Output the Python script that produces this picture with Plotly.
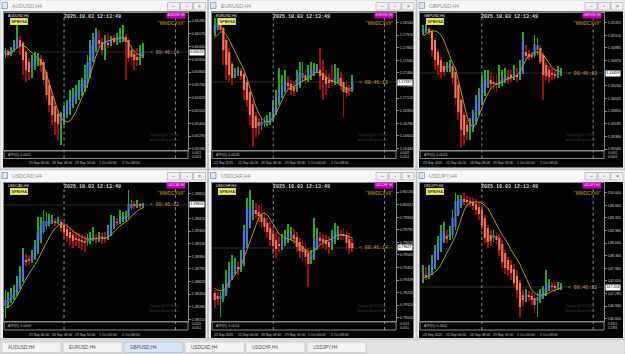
import plotly.graph_objects as go

W, H = 625, 354

# ------------------------------------------------------------------ data
SYMBOLS = ["AUDUSD", "EURUSD", "GBPUSD", "USDCAD", "USDCHF", "USDJPY"]
TIMEFRAME = "H4"
CLOCK = "2025.10.03 12:13:49"
TIME_LABELS = ["23 Sep 2025", "25 Sep 00:00", "26 Sep 08:00", "29 Sep 16:00", "1 Oct 00:00", "2 Oct 08:00"]
TIME_LABEL_BARS = [0, 8, 16, 24, 32, 40]
SEPARATOR_BARS = [20, 58]

AUDUSD_OPEN = [0.65996,0.66022,0.65996,0.66030,0.66056,0.66117,0.66091,0.66013,0.65927,0.65876,0.65901,0.65936,0.65953,0.65927,0.65841,0.65729,0.65634,0.65548,0.65479,0.65411,0.65436,0.65479,0.65514,0.65557,0.65600,0.65634,0.65669,0.65703,0.65738,0.65832,0.65953,0.66048,0.66117,0.66099,0.66065,0.66091,0.66082,0.66134,0.66099,0.66117,0.66125,0.66142,0.66117,0.66030,0.65996,0.65970,0.65962,0.65987]
AUDUSD_CLOSE = [0.66030,0.65987,0.66030,0.66082,0.66134,0.66065,0.65944,0.65858,0.65841,0.65927,0.65962,0.65970,0.65901,0.65772,0.65643,0.65557,0.65471,0.65411,0.65393,0.65462,0.65514,0.65548,0.65600,0.65634,0.65669,0.65703,0.65738,0.65772,0.65927,0.66074,0.66134,0.66185,0.66082,0.66030,0.66117,0.66074,0.66117,0.66099,0.66134,0.66142,0.66151,0.66099,0.65962,0.65970,0.65944,0.65944,0.66013,0.66013]
AUDUSD_HIGH = [0.66048,0.66039,0.66056,0.66117,0.66246,0.66151,0.66108,0.66030,0.65962,0.65987,0.66013,0.66005,0.65987,0.65944,0.65858,0.65772,0.65669,0.65583,0.65514,0.65497,0.65557,0.65600,0.65686,0.65703,0.65729,0.65772,0.65789,0.65901,0.65987,0.66117,0.66177,0.66220,0.66203,0.66134,0.66160,0.66168,0.66151,0.66160,0.66177,0.66220,0.66246,0.66168,0.66134,0.66074,0.66030,0.66048,0.66074,0.66091]
AUDUSD_LOW = [0.65962,0.65970,0.65979,0.66013,0.66048,0.65987,0.65815,0.65755,0.65772,0.65789,0.65858,0.65893,0.65841,0.65729,0.65600,0.65497,0.65385,0.65299,0.65256,0.65213,0.65385,0.65445,0.65471,0.65531,0.65566,0.65600,0.65634,0.65669,0.65703,0.65789,0.65927,0.66013,0.66048,0.65987,0.65944,0.66048,0.66065,0.66074,0.66074,0.66091,0.66099,0.65772,0.65927,0.65901,0.65858,0.65893,0.65901,0.65962]
AUDUSD_MA = [0.65987,0.65996,0.66013,0.66030,0.66048,0.66065,0.66065,0.66056,0.66030,0.66005,0.65979,0.65962,0.65944,0.65893,0.65824,0.65738,0.65652,0.65566,0.65497,0.65445,0.65419,0.65411,0.65419,0.65454,0.65497,0.65557,0.65617,0.65669,0.65738,0.65824,0.65910,0.65987,0.66048,0.66082,0.66099,0.66108,0.66117,0.66125,0.66125,0.66134,0.66134,0.66125,0.66091,0.66048,0.66013,0.65996,0.65987,0.65987]
AUDUSD_TICKS = [0.66280,0.66170,0.66060,0.65950,0.65840,0.65730,0.65620,0.65510,0.65400,0.65290,0.65180]
AUDUSD_PRICE = 0.66013

EURUSD_OPEN = [1.17999,1.18066,1.18107,1.18066,1.17904,1.17742,1.17580,1.17432,1.17459,1.17486,1.17445,1.17337,1.17202,1.17040,1.16878,1.16797,1.16757,1.16770,1.16784,1.16797,1.16838,1.16932,1.17067,1.17162,1.17229,1.17324,1.17310,1.17270,1.17243,1.17310,1.17391,1.17432,1.17391,1.17418,1.17459,1.17486,1.17499,1.17459,1.17405,1.17364,1.17351,1.17337,1.17364,1.17391,1.17337,1.17270,1.17229,1.17229]
EURUSD_CLOSE = [1.18107,1.18134,1.18039,1.17769,1.17567,1.17432,1.17391,1.17486,1.17499,1.17418,1.17229,1.17094,1.16892,1.16716,1.16716,1.16743,1.16797,1.16811,1.16824,1.16865,1.16986,1.17135,1.17229,1.17283,1.17364,1.17283,1.17229,1.17216,1.17364,1.17445,1.17459,1.17364,1.17432,1.17499,1.17513,1.17526,1.17418,1.17364,1.17310,1.17324,1.17337,1.17391,1.17405,1.17283,1.17202,1.17189,1.17216,1.17337]
EURUSD_HIGH = [1.18201,1.18201,1.18147,1.18080,1.17931,1.17796,1.17607,1.17526,1.17540,1.17526,1.17472,1.17364,1.17229,1.17094,1.16932,1.16851,1.16851,1.16865,1.16892,1.16932,1.17094,1.17229,1.17526,1.17432,1.17499,1.17418,1.17364,1.17337,1.17499,1.17607,1.17607,1.17499,1.17567,1.17607,1.17594,1.17580,1.17796,1.17634,1.17499,1.17445,1.17567,1.17580,1.17526,1.17472,1.17391,1.17364,1.17297,1.17432]
EURUSD_LOW = [1.17958,1.18039,1.17999,1.17567,1.17364,1.17337,1.17297,1.17391,1.17418,1.17364,1.17094,1.17000,1.16757,1.16460,1.16595,1.16622,1.16689,1.16730,1.16743,1.16757,1.16811,1.16892,1.17027,1.17121,1.17202,1.17229,1.17162,1.17148,1.17202,1.17256,1.17337,1.17310,1.17337,1.17364,1.17418,1.17459,1.17229,1.17094,1.17162,1.17256,1.17283,1.17297,1.17310,1.17229,1.16865,1.17121,1.17148,1.17202]
EURUSD_MA = [1.17931,1.17972,1.18012,1.18012,1.17972,1.17904,1.17823,1.17742,1.17661,1.17594,1.17499,1.17391,1.17256,1.17135,1.17013,1.16919,1.16851,1.16811,1.16797,1.16811,1.16851,1.16919,1.17000,1.17094,1.17175,1.17229,1.17270,1.17283,1.17297,1.17324,1.17351,1.17364,1.17391,1.17418,1.17459,1.17472,1.17459,1.17432,1.17405,1.17378,1.17351,1.17337,1.17324,1.17297,1.17270,1.17243,1.17243,1.17270]
EURUSD_TICKS = [1.18140,1.17970,1.17800,1.17630,1.17460,1.17290,1.17120,1.16950,1.16780,1.16610,1.16440]
EURUSD_PRICE = 1.17337

GBPUSD_OPEN = [1.35138,1.35172,1.35206,1.35172,1.35019,1.34815,1.34679,1.34577,1.34509,1.34543,1.34577,1.34475,1.34254,1.33999,1.33744,1.33574,1.33506,1.33540,1.33642,1.33795,1.33965,1.34118,1.34237,1.34339,1.34305,1.34288,1.34271,1.34305,1.34339,1.34390,1.34424,1.34390,1.34424,1.34407,1.34475,1.34815,1.34781,1.34764,1.34747,1.34849,1.34883,1.34764,1.34594,1.34509,1.34458,1.34441,1.34424,1.34441]
GBPUSD_CLOSE = [1.35206,1.35240,1.35138,1.34849,1.34679,1.34594,1.34475,1.34475,1.34577,1.34594,1.34373,1.34033,1.33795,1.33489,1.33404,1.33455,1.33591,1.33761,1.33965,1.34118,1.34254,1.34339,1.34356,1.34271,1.34271,1.34254,1.34339,1.34373,1.34407,1.34356,1.34373,1.34458,1.34390,1.34543,1.34985,1.34747,1.34730,1.34730,1.34951,1.34934,1.34645,1.34424,1.34407,1.34390,1.34424,1.34407,1.34492,1.34475]
GBPUSD_HIGH = [1.35274,1.35291,1.35240,1.35189,1.35053,1.34849,1.34730,1.34645,1.34645,1.34679,1.34611,1.34509,1.34305,1.34033,1.33795,1.33659,1.33693,1.33829,1.34084,1.34203,1.34424,1.34509,1.34509,1.34475,1.34407,1.34441,1.34594,1.34509,1.34543,1.34509,1.34509,1.34594,1.34543,1.34679,1.35155,1.34934,1.34849,1.34815,1.35104,1.35053,1.34934,1.34815,1.34645,1.34577,1.34543,1.34509,1.34577,1.34543]
GBPUSD_LOW = [1.35104,1.35138,1.35104,1.34730,1.34509,1.34424,1.34373,1.34407,1.34475,1.34475,1.34254,1.33914,1.33659,1.33200,1.33234,1.33319,1.33319,1.33455,1.33574,1.33744,1.33914,1.34067,1.34203,1.34169,1.34169,1.34135,1.34203,1.34237,1.34288,1.34271,1.34305,1.34339,1.34305,1.34339,1.34441,1.34679,1.34679,1.34696,1.34713,1.34764,1.34611,1.33999,1.34339,1.34288,1.34339,1.34356,1.34373,1.34407]
GBPUSD_MA = [1.35087,1.35121,1.35155,1.35172,1.35172,1.35155,1.35104,1.35019,1.34883,1.34747,1.34628,1.34543,1.34339,1.34135,1.33897,1.33710,1.33591,1.33540,1.33591,1.33727,1.33880,1.33999,1.34101,1.34186,1.34237,1.34271,1.34288,1.34305,1.34339,1.34356,1.34373,1.34390,1.34424,1.34475,1.34577,1.34679,1.34747,1.34781,1.34798,1.34815,1.34798,1.34764,1.34696,1.34611,1.34543,1.34509,1.34492,1.34475]
GBPUSD_TICKS = [1.35315,1.35100,1.34885,1.34670,1.34240,1.34025,1.33810,1.33595,1.33380,1.33165]
GBPUSD_PRICE = 1.34458

USDCAD_OPEN = [1.38290,1.38331,1.38371,1.38412,1.38466,1.38560,1.38655,1.38911,1.38925,1.38911,1.38938,1.39019,1.39181,1.39289,1.39370,1.39397,1.39424,1.39438,1.39424,1.39424,1.39384,1.39330,1.39289,1.39249,1.39208,1.39195,1.39181,1.39168,1.39154,1.39181,1.39195,1.39208,1.39208,1.39222,1.39208,1.39208,1.39262,1.39357,1.39424,1.39424,1.39451,1.39465,1.39492,1.39613,1.39654,1.39640,1.39654,1.39640]
USDCAD_CLOSE = [1.38371,1.38398,1.38452,1.38506,1.38628,1.38749,1.38992,1.38884,1.38898,1.38965,1.39100,1.39276,1.39370,1.39438,1.39438,1.39451,1.39451,1.39411,1.39438,1.39343,1.39289,1.39235,1.39208,1.39168,1.39181,1.39168,1.39154,1.39141,1.39195,1.39208,1.39222,1.39195,1.39222,1.39195,1.39195,1.39303,1.39438,1.39438,1.39411,1.39465,1.39478,1.39505,1.39667,1.39667,1.39640,1.39667,1.39640,1.39654]
USDCAD_HIGH = [1.38506,1.38479,1.38533,1.38574,1.38695,1.38830,1.39073,1.38992,1.38979,1.39046,1.39181,1.39492,1.39492,1.39586,1.39559,1.39532,1.39519,1.39478,1.39492,1.39465,1.39424,1.39397,1.39343,1.39316,1.39289,1.39276,1.39249,1.39235,1.39262,1.39289,1.39357,1.39262,1.39289,1.39276,1.39289,1.39384,1.39519,1.39505,1.39478,1.39586,1.39559,1.39573,1.39856,1.39721,1.39708,1.39721,1.39681,1.39681]
USDCAD_LOW = [1.38128,1.38263,1.38331,1.38371,1.38425,1.38520,1.38614,1.38830,1.38857,1.38871,1.38911,1.38992,1.39141,1.39262,1.39330,1.39370,1.39397,1.39370,1.39397,1.39289,1.39208,1.39154,1.39114,1.39073,1.39100,1.39073,1.39046,1.39019,1.39100,1.39127,1.39168,1.39141,1.39154,1.39127,1.39141,1.39181,1.39235,1.39330,1.39370,1.39397,1.39424,1.39438,1.39465,1.39586,1.39600,1.39613,1.39613,1.39613]
USDCAD_MA = [1.38263,1.38277,1.38304,1.38358,1.38425,1.38506,1.38587,1.38655,1.38722,1.38776,1.38844,1.38911,1.38992,1.39060,1.39141,1.39222,1.39289,1.39343,1.39384,1.39397,1.39397,1.39370,1.39343,1.39303,1.39276,1.39249,1.39222,1.39208,1.39195,1.39195,1.39195,1.39195,1.39208,1.39208,1.39208,1.39222,1.39249,1.39289,1.39330,1.39370,1.39397,1.39424,1.39451,1.39505,1.39546,1.39573,1.39600,1.39613]
USDCAD_TICKS = [1.39810,1.39470,1.39300,1.39130,1.38960,1.38790,1.38620,1.38450,1.38280,1.38110]
USDCAD_PRICE = 1.39654

USDCHF_OPEN = [0.79222,0.79195,0.79168,0.79177,0.79222,0.79285,0.79357,0.79429,0.79456,0.79447,0.79501,0.79654,0.79834,0.79924,0.79969,0.79951,0.79933,0.79897,0.79852,0.79807,0.79753,0.79699,0.79663,0.79654,0.79672,0.79699,0.79726,0.79744,0.79726,0.79681,0.79645,0.79618,0.79582,0.79528,0.79546,0.79627,0.79717,0.79708,0.79699,0.79681,0.79654,0.79690,0.79735,0.79753,0.79753,0.79744,0.79708,0.79672]
USDCHF_CLOSE = [0.79159,0.79168,0.79195,0.79249,0.79321,0.79411,0.79474,0.79465,0.79438,0.79537,0.79789,0.79987,0.79996,0.79969,0.79933,0.79915,0.79861,0.79816,0.79771,0.79699,0.79645,0.79618,0.79645,0.79690,0.79717,0.79753,0.79753,0.79708,0.79636,0.79600,0.79591,0.79546,0.79483,0.79555,0.79708,0.79735,0.79690,0.79681,0.79663,0.79636,0.79717,0.79780,0.79771,0.79744,0.79735,0.79672,0.79627,0.79627]
USDCHF_HIGH = [0.79249,0.79231,0.79231,0.79303,0.79429,0.79501,0.79564,0.79537,0.79501,0.79609,0.79834,0.80077,0.80149,0.80059,0.80032,0.80014,0.80032,0.79951,0.79897,0.79861,0.79807,0.79771,0.79735,0.79753,0.79789,0.79843,0.79816,0.79798,0.79771,0.79717,0.79699,0.79672,0.79627,0.79609,0.79897,0.79807,0.79771,0.79753,0.79744,0.79735,0.79789,0.79852,0.79825,0.79789,0.79807,0.79789,0.79762,0.79717]
USDCHF_LOW = [0.79087,0.79114,0.79006,0.79141,0.79195,0.79267,0.79339,0.79393,0.79384,0.79411,0.79465,0.79627,0.79807,0.79879,0.79897,0.79861,0.79807,0.79771,0.79717,0.79645,0.79573,0.79537,0.79591,0.79609,0.79645,0.79672,0.79699,0.79663,0.79591,0.79537,0.79501,0.79465,0.79276,0.79483,0.79519,0.79609,0.79654,0.79627,0.79609,0.79573,0.79609,0.79663,0.79699,0.79699,0.79699,0.79609,0.79573,0.79591]
USDCHF_MA = [0.79267,0.79249,0.79240,0.79249,0.79276,0.79312,0.79348,0.79384,0.79420,0.79465,0.79537,0.79609,0.79690,0.79762,0.79843,0.79897,0.79933,0.79942,0.79924,0.79888,0.79843,0.79798,0.79753,0.79735,0.79717,0.79708,0.79699,0.79690,0.79672,0.79654,0.79636,0.79609,0.79591,0.79591,0.79609,0.79627,0.79654,0.79672,0.79690,0.79699,0.79708,0.79726,0.79744,0.79744,0.79744,0.79735,0.79726,0.79717]
USDCHF_TICKS = [0.80130,0.80017,0.79904,0.79791,0.79678,0.79565,0.79452,0.79339,0.79226,0.79113,0.79000]
USDCHF_PRICE = 0.79627

USDJPY_OPEN = [147.724,147.778,147.751,147.832,148.021,148.237,148.453,148.696,148.831,148.804,148.858,149.074,149.425,149.641,149.830,149.803,149.776,149.749,149.695,149.614,149.533,149.317,149.047,148.858,148.777,148.831,148.777,148.615,148.372,148.183,148.048,147.940,147.751,147.562,147.238,147.184,147.238,147.211,147.157,147.076,147.130,147.211,147.292,147.427,147.481,147.481,147.454,147.427]
USDJPY_CLOSE = [147.832,147.724,147.886,148.210,148.426,148.642,148.912,148.966,148.750,148.885,149.317,149.776,149.830,149.830,149.749,149.749,149.722,149.641,149.533,149.425,149.128,148.777,148.669,148.696,148.858,148.723,148.453,148.129,147.967,147.913,147.832,147.562,147.373,146.914,147.103,147.265,147.184,147.103,146.968,147.184,147.265,147.373,147.562,147.508,147.454,147.427,147.481,147.454]
USDJPY_HIGH = [148.048,147.994,148.048,148.318,148.588,148.831,149.128,149.209,148.993,149.101,149.533,149.992,149.938,149.938,149.992,149.911,149.884,149.857,149.830,149.749,149.668,149.398,149.128,148.993,148.993,148.939,148.885,148.723,148.453,148.264,148.183,148.075,147.913,147.643,147.373,147.400,147.346,147.319,147.265,147.292,147.400,147.481,147.913,147.670,147.589,147.589,147.589,147.562]
USDJPY_LOW = [147.562,147.643,147.670,147.778,147.940,148.183,148.399,148.642,148.642,148.723,148.777,148.993,149.371,149.587,149.668,149.641,149.614,149.533,149.398,149.263,148.993,148.642,148.507,148.561,148.669,148.588,148.291,147.967,147.805,147.778,147.643,147.427,147.157,146.644,146.941,147.049,147.076,146.968,146.752,146.644,147.022,147.130,147.211,147.346,147.346,147.319,147.373,147.373]
USDJPY_MA = [147.697,147.724,147.751,147.805,147.859,147.940,148.048,148.210,148.345,148.507,148.669,148.831,149.074,149.290,149.533,149.668,149.722,149.749,149.749,149.749,149.722,149.641,149.587,149.452,149.290,149.128,148.993,148.858,148.750,148.615,148.453,148.318,148.183,148.075,147.886,147.724,147.562,147.373,147.292,147.238,147.238,147.238,147.265,147.292,147.346,147.373,147.400,147.427]
USDJPY_TICKS = [150.000,149.660,149.320,148.980,148.640,148.300,147.960,147.620,147.280,146.940,146.600]
USDJPY_PRICE = 147.454

COUNTDOWNS = ["00:46:14", "00:46:13", "00:46:13", "00:46:12", "00:46:14", "00:46:12"]
ATR_VALUES = ["0.0011", "0.0018", "0.0023", "0.0009", "0.0014", "0.2602"]
ATR_SCALES = [["0.0021", "0.0013"], ["0.0028", "0.0014"], ["0.0031", "0.0019"],
              ["0.0020", "0.0012"], ["0.0019", "0.0011"], ["0.3925", "0.2383"]]
DIGITS = [5, 5, 5, 5, 5, 3]

SERIES = {
    "AUDUSD": dict(o=AUDUSD_OPEN, h=AUDUSD_HIGH, l=AUDUSD_LOW, c=AUDUSD_CLOSE, ma=AUDUSD_MA, ticks=AUDUSD_TICKS, price=AUDUSD_PRICE),
    "EURUSD": dict(o=EURUSD_OPEN, h=EURUSD_HIGH, l=EURUSD_LOW, c=EURUSD_CLOSE, ma=EURUSD_MA, ticks=EURUSD_TICKS, price=EURUSD_PRICE),
    "GBPUSD": dict(o=GBPUSD_OPEN, h=GBPUSD_HIGH, l=GBPUSD_LOW, c=GBPUSD_CLOSE, ma=GBPUSD_MA, ticks=GBPUSD_TICKS, price=GBPUSD_PRICE),
    "USDCAD": dict(o=USDCAD_OPEN, h=USDCAD_HIGH, l=USDCAD_LOW, c=USDCAD_CLOSE, ma=USDCAD_MA, ticks=USDCAD_TICKS, price=USDCAD_PRICE),
    "USDCHF": dict(o=USDCHF_OPEN, h=USDCHF_HIGH, l=USDCHF_LOW, c=USDCHF_CLOSE, ma=USDCHF_MA, ticks=USDCHF_TICKS, price=USDCHF_PRICE),
    "USDJPY": dict(o=USDJPY_OPEN, h=USDJPY_HIGH, l=USDJPY_LOW, c=USDJPY_CLOSE, ma=USDJPY_MA, ticks=USDJPY_TICKS, price=USDJPY_PRICE),
}

# ------------------------------------------------------------------ layout (pixels)
COLS = [
    dict(win=(0, 207.5), black=(3, 205.5), plot=(4, 188), xr=(-0.5, 62.3)),
    dict(win=(208.5, 416), black=(211, 413.5), plot=(212, 396), xr=(-0.9, 61.9)),
    dict(win=(417, 625), black=(419, 623), plot=(420, 604), xr=(-1.1, 61.7)),
]
ROWS = [
    dict(win=(0, 169), title=(0, 11), black=(11.5, 167.5), plot=(13, 150), atr=(151, 158.5), tl=163),
    dict(win=(170, 339), title=(170, 181), black=(182, 338), plot=(183, 321), atr=(322, 330), tl=334.5),
]
YRANGES = [(0.651695, 0.66349), (1.16419, 1.182685), (1.33149, 1.35478),
           (1.380875, 1.399505), (0.78970, 0.80212), (146.536, 150.262)]

BULL_BODY, BEAR_BODY = "#4a78e0", "#ff7452"
BULL_WICK, BEAR_WICK = "#22a822", "#9a0e0e"
MA_COLOR = "#a99a12"
FRAME = "#8a8a8a"
FONT = "Liberation Sans"
MONO = "Liberation Mono"


def fx(px):
    return px / W


def fy(py):
    return 1 - py / H


def rect(x0, y0, x1, y1, fill=None, line=None, lw=1, layer="below"):
    return dict(type="rect", xref="paper", yref="paper", x0=fx(x0), x1=fx(x1), y0=fy(y1), y1=fy(y0),
                fillcolor=fill if fill else "rgba(0,0,0,0)",
                line=dict(width=lw if line else 0, color=line if line else "rgba(0,0,0,0)"), layer=layer)


def text(px, py, s, size, color, xanchor="left", yanchor="middle", family=FONT, **kw):
    return dict(xref="paper", yref="paper", x=fx(px), y=fy(py), text=s, showarrow=False,
                xanchor=xanchor, yanchor=yanchor, font=dict(size=size, color=color, family=family), **kw)


fig = go.Figure()
shapes, annotations = [], []
layout = {}

# taskbar strip at the bottom
shapes.append(rect(0, 339.5, 625, 354, fill="#e2e2e2", line="#c4c4c4", lw=0.5))
for t in range(6):
    x0 = 2 + t * 61
    shapes.append(rect(x0, 342, x0 + 59, 352.5, fill="#d6e6f6" if t == 2 else "#f4f4f4",
                       line="#9fb6cf" if t == 2 else "#bdbdbd", lw=0.6))
    annotations.append(text(x0 + 4, 347.3, f"{SYMBOLS[t]},{TIMEFRAME}", 4.6, "#505050"))

for r, row in enumerate(ROWS):
    for c, col in enumerate(COLS):
        k = r * 3 + c
        sym = SYMBOLS[k]
        s = SERIES[sym]
        n = k + 1
        xa, ya = ("x", "y") if n == 1 else (f"x{n}", f"y{n}")
        wl, wr = col["win"]
        pl, pr = col["plot"]
        pt, pb = row["plot"]
        yr = YRANGES[k]

        # window chrome
        shapes.append(rect(wl, row["win"][0], wr, row["win"][1], fill="#f0f0f0", line="#a8a8a8", lw=0.6))
        shapes.append(rect(wl + 0.5, row["title"][0] + 0.5, wr - 0.5, row["title"][1], fill="#f7f7f7"))
        shapes.append(rect(wl + 2, row["title"][0] + 2.5, wl + 7.5, row["title"][0] + 8.5,
                           fill="#dce7f4", line="#5b7fb2", lw=0.6))
        annotations.append(text(wl + 10, (row["title"][0] + row["title"][1]) / 2 + 0.3,
                                f"{sym},{TIMEFRAME}", 5.2, "#8c8c8c"))
        for b, glyph in enumerate(["–", "▫", "×"]):
            bx1 = wr - 2 - (2 - b) * 13
            shapes.append(rect(bx1 - 12, row["title"][0] + 2.5, bx1, row["title"][1] - 1,
                               fill="#f2f2f2", line="#a0a0a0", lw=0.6))
            annotations.append(text(bx1 - 6, (row["title"][0] + row["title"][1]) / 2 + 0.7, glyph, 5,
                                    "#606060", xanchor="center"))
        shapes.append(rect(col["black"][0], row["black"][0], col["black"][1], row["black"][1], fill="#020202"))

        # ATR sub-window
        a0, a1 = row["atr"]
        shapes.append(rect(pl, a0, pr, a1, line=FRAME, lw=1))
        annotations.append(text(pl + 2, (a0 + a1) / 2, f"ATR(5) {ATR_VALUES[k]}", 3.6, "#bdbdbd"))
        annotations.append(text(pr + 1.5, a0 + 1.8, ATR_SCALES[k][0], 3.0, "#c8c8c8"))
        annotations.append(text(pr + 1.5, a1 - 1.8, ATR_SCALES[k][1], 3.0, "#c8c8c8"))

        # time labels
        for lab, bar in zip(TIME_LABELS, TIME_LABEL_BARS):
            annotations.append(dict(xref=xa, yref="paper", x=bar - 0.8, y=fy(row["tl"]), text=lab,
                                    showarrow=False, xanchor="left", yanchor="middle",
                                    font=dict(size=3.4, color="#c4c4c4", family=FONT)))

        # separators
        for bar in SEPARATOR_BARS:
            shapes.append(dict(type="line", xref=xa, yref="paper", x0=bar, x1=bar, y0=fy(a1), y1=fy(pt),
                               line=dict(color="#8e8e8e", width=1, dash="dot"), layer="above"))
        # current price line
        shapes.append(dict(type="line", xref=xa, yref=ya, x0=col["xr"][0], x1=col["xr"][1],
                           y0=s["price"], y1=s["price"], line=dict(color="#2c2c2c", width=1), layer="below"))

        # axes
        layout["xaxis" if n == 1 else f"xaxis{n}"] = dict(
            domain=[fx(pl), fx(pr)], range=list(col["xr"]), anchor=ya, showgrid=False, zeroline=False,
            showticklabels=False, showline=True, mirror=True, linecolor=FRAME, linewidth=1, fixedrange=True)
        d = DIGITS[k]
        layout["yaxis" if n == 1 else f"yaxis{n}"] = dict(
            domain=[fy(pb), fy(pt)], range=list(yr), anchor=xa, side="right", showgrid=False, zeroline=False,
            tickvals=s["ticks"], ticktext=[f"{v:.{d}f}" for v in s["ticks"]], ticks="outside", ticklen=2,
            tickcolor=FRAME, tickfont=dict(size=3.7, color="#cfcfcf", family=FONT),
            showline=True, mirror=True, linecolor=FRAME, linewidth=1, fixedrange=True)

        # candles (Heikin-Ashi style bodies + wicks)
        idx = list(range(len(s["c"])))
        up = [cc >= oo for oo, cc in zip(s["o"], s["c"])]
        unit = (yr[1] - yr[0]) / (pb - pt)
        fig.add_trace(go.Bar(x=idx, y=[hh - ll for hh, ll in zip(s["h"], s["l"])], base=s["l"], width=0.3,
                             marker=dict(color=[BULL_WICK if u else BEAR_WICK for u in up], line=dict(width=0)),
                             xaxis=xa, yaxis=ya, hoverinfo="skip"))
        fig.add_trace(go.Bar(x=idx, y=[max(abs(cc - oo), unit * 0.8) for oo, cc in zip(s["o"], s["c"])],
                             base=[min(oo, cc) for oo, cc in zip(s["o"], s["c"])], width=0.72,
                             marker=dict(color=[BULL_BODY if u else BEAR_BODY for u in up], line=dict(width=0)),
                             xaxis=xa, yaxis=ya, hoverinfo="skip"))
        fig.add_trace(go.Scatter(x=idx, y=s["ma"], mode="lines", line=dict(color=MA_COLOR, width=1),
                                 xaxis=xa, yaxis=ya, hoverinfo="skip"))

        # overlay texts inside the chart
        annotations.append(text(pl + 2, pt + 2.6, f"{sym},{TIMEFRAME}", 3.6, "#e8e8e8"))
        annotations.append(text(pl + 6, pt + 8.5, "<b>SPB/HA</b>", 4.2, "#1030d0", bgcolor="#ffff00",
                                bordercolor="#f0f0a0", borderwidth=0.6, borderpad=0.6))
        annotations.append(text((pl + pr) / 2 - 3, pt + 3.6, f"<b>{CLOCK}</b>", 5.0, "#d8d8d8", xanchor="center",
                                family=MONO))
        annotations.append(text(pr - 2, pt + 2.6, f"{sym} {TIMEFRAME}", 3.0, "#ffd0ff", xanchor="right",
                                bgcolor="#c000c0", borderpad=0.4))
        annotations.append(text(pr - 1.5, pt + 10, '"MWDCXVII"', 4.6, "#c9a514", xanchor="right"))
        annotations.append(text(pr - 7, pb - 13, "Copyright©2016<br>forexmt4systems", 4.0, "#3a3a3a",
                                xanchor="right"))
        annotations.append(dict(xref=xa, yref=ya, x=48.6, y=s["price"], text=f"< {COUNTDOWNS[k]}",
                                showarrow=False, xanchor="left", yanchor="middle",
                                font=dict(size=4.8, color="#d09a3c", family=MONO)))
        annotations.append(dict(xref="paper", yref=ya, x=fx(pr + 1.2), y=s["price"],
                                text=f"{s['price']:.{DIGITS[k]}f}", showarrow=False, xanchor="left",
                                yanchor="middle", bgcolor="#ffffff", borderpad=0.3,
                                font=dict(size=3.7, color="#000000", family=FONT)))

layout.update(dict(width=W, height=H, margin=dict(l=0, r=0, t=0, b=0), paper_bgcolor="#e4e4e4",
                   plot_bgcolor="rgba(0,0,0,0)", showlegend=False, barmode="overlay",
                   shapes=shapes, annotations=annotations, hovermode=False))
fig.update_layout(**layout)
fig.write_html("out.html", config=dict(displayModeBar=False))
